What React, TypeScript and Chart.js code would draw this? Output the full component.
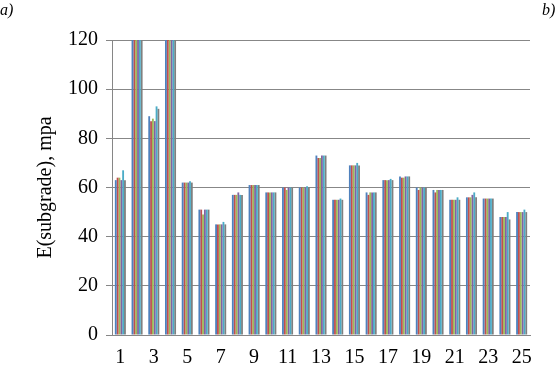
import React, { useEffect, useRef } from "react";
import { Chart, registerables } from "chart.js";

Chart.register(...registerables);

const categories = Array.from({ length: 25 }, (_, i) => String(i + 1));
const tickLabels = ["1", "3", "5", "7", "9", "11", "13", "15", "17", "19", "21", "23", "25"];

const seriesBlue = [63, 130, 89, 130, 62, 51, 45, 57, 61, 58, 60, 60, 73, 55, 69, 58, 63, 64.5, 60, 59, 55, 56, 55.5, 48, 50];
const seriesRed = [64, 130, 87, 130, 62, 51, 45, 57, 61, 58, 60, 60, 72, 55, 69, 57, 63, 64, 59, 58, 55, 56, 55.5, 48, 50];
const seriesGreen = [64, 130, 88, 130, 62, 49, 45, 57, 61, 58, 59, 60, 72, 55, 69, 58, 63, 64, 60, 59, 55, 56, 55.5, 48, 50];
const seriesPurple = [63, 130, 87, 130, 62, 51, 45, 58, 61, 58, 60, 60, 73, 55, 69, 58, 63, 64.5, 60, 59, 55, 57, 55.5, 48, 50];
const seriesCyan = [67, 130, 93, 130, 62.5, 51, 46, 57, 61, 58, 60, 60.5, 73, 55.5, 70, 58, 63.5, 64.5, 60, 59, 56, 58, 55.5, 50, 51];
const seriesGray = [63, 130, 92, 130, 62, 51, 45, 57, 61, 58, 60, 60, 73, 55, 69, 58, 63, 64.5, 60, 59, 55, 56, 55.5, 47, 50];

const seriesColors = ["#4F81BD", "#C0504D", "#9BBB59", "#8064A2", "#4BACC6", "#7F7F7F"];
const serif = "'Liberation Serif', 'Times New Roman', serif";

export default function App() {
  const ref = useRef<HTMLCanvasElement | null>(null);
  useEffect(() => {
    if (!ref.current) return;
    const data = [seriesBlue, seriesRed, seriesGreen, seriesPurple, seriesCyan, seriesGray];
    const chart = new Chart(ref.current, {
      type: "bar",
      data: {
        labels: categories,
        datasets: data.map((d, i) => ({
          label: "S" + (i + 1),
          data: d,
          backgroundColor: seriesColors[i],
          borderWidth: 0,
          categoryPercentage: 0.66,
          barPercentage: 1.0,
        })),
      },
      options: {
        responsive: false,
        animation: false,
        events: [],
        layout: { padding: { left: 0, right: 28, top: 40, bottom: 0 } },
        plugins: { legend: { display: false }, tooltip: { enabled: false } },
        scales: {
          x: {
            grid: { display: false },
            border: { display: true, color: "#868686", width: 1 },
            ticks: {
              autoSkip: false,
              maxRotation: 0,
              color: "#000",
              padding: 3,
              font: { family: serif, size: 20 },
              callback: (_v: any, i: number) => (i % 2 === 0 ? tickLabels[i / 2] : ""),
            },
            afterFit: (s: any) => { s.height = 31; },
          },
          y: {
            min: 0,
            max: 120,
            grid: { color: "#878787", lineWidth: 1, tickLength: 6, tickColor: "#868686" },
            border: { display: true, color: "#868686", width: 1 },
            ticks: {
              stepSize: 10,
              color: "#000",
              padding: 8,
              font: { family: serif, size: 20 },
              callback: (v: any) => (Number(v) % 20 === 0 ? String(v) : ""),
            },
            title: {
              display: true,
              text: "E(subgrade), mpa",
              color: "#000",
              padding: { top: 34, bottom: 0 },
              font: { family: serif, size: 20 },
            },
            afterFit: (s: any) => { s.width = 112; },
          },
        },
      },
    });
    return () => chart.destroy();
  }, []);
  return (
    <div style={{ position: "fixed", left: 0, top: 0, width: 558, height: 366, background: "#fff" }}>
      <canvas ref={ref} width={558} height={366} style={{ position: "absolute", left: 0, top: 0 }} />
      <span style={{ position: "absolute", left: 0, top: 1, fontFamily: serif, fontStyle: "italic", fontSize: 16, lineHeight: "18px" }}>a)</span>
      <span style={{ position: "absolute", left: 542, top: 1, fontFamily: serif, fontStyle: "italic", fontSize: 16, lineHeight: "18px" }}>b)</span>
    </div>
  );
}
